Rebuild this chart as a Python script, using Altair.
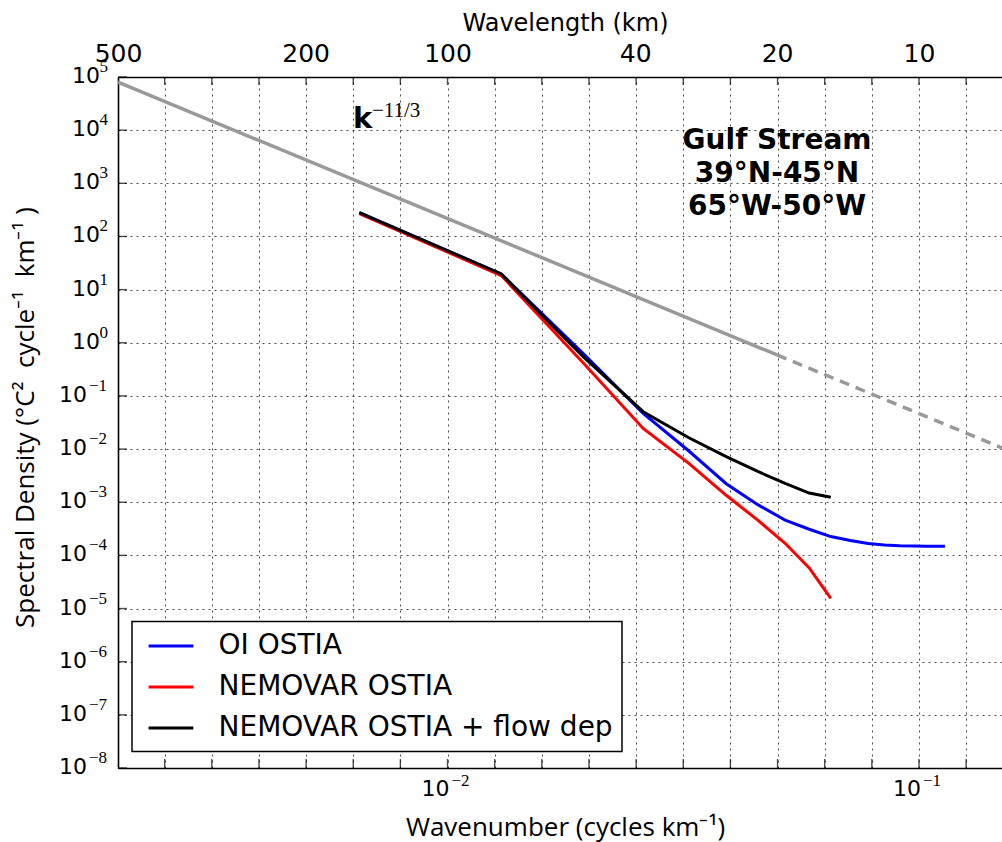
import altair as alt
import pandas as pd

# Plot-area size in pixels
W, H = 884, 691

# Wavenumber samples (cycles/km)
k_main = [0.0065, 0.0130, 0.0195, 0.0260, 0.0325, 0.0390, 0.0455, 0.0520, 0.0585, 0.0650]
k_oi = k_main + [0.0715, 0.0780, 0.0845, 0.0910, 0.0975, 0.1040, 0.1105, 0.1135]

# Spectral density (degC^2 cycle^-1 km^-1)
oi_ostia = [282, 19.7, 0.60, 0.047, 0.0092, 0.00223, 9.0e-4, 4.6e-4, 3.1e-4, 2.26e-4,
            1.9e-4, 1.67e-4, 1.57e-4, 1.52e-4, 1.50e-4, 1.49e-4, 1.48e-4, 1.48e-4]
nemovar_ostia = [270, 18.4, 0.40, 0.0245, 0.0054, 0.00135, 4.6e-4, 1.69e-4, 5.8e-5, 1.56e-5]
nemovar_flow = [282, 19.7, 0.524, 0.0505, 0.0163, 0.0072, 0.0038, 0.00227, 0.00149, 0.00124]

series_names = ["OI OSTIA", "NEMOVAR OSTIA", "NEMOVAR OSTIA + flow dep"]
series_colors = ["#0000ff", "#ff0000", "#000000"]

# k^-11/3 reference slope (solid part, dashed continuation)
ref_k_solid = [0.002, 0.05]
ref_s_solid = [8.0e4, 0.59]
ref_k_dash = [0.05, 0.15]
ref_s_dash = [0.59, 0.0105]

# Axis ticks
x_tick_exp = [-2.6, -2.5, -2.4, -2.3, -2.2, -2.1, -2.0, -1.9, -1.8, -1.7, -1.6,
              -1.5, -1.4, -1.3, -1.2, -1.1, -1.0, -0.9]
x_ticks = [10 ** e for e in x_tick_exp]
top_tick_k = [0.002, 0.005, 0.01, 0.025, 0.05, 0.1]
bottom_label_k = [0.01, 0.1]
bottom_label_exp = ["\u22122", "\u22121"]
y_pos_exp = [5, 4, 3, 2, 1, 0]
y_neg_exp = [-1, -2, -3, -4, -5, -6, -7, -8]
y_ticks = [10.0 ** e for e in y_pos_exp + y_neg_exp]

region_text = "Gulf Stream\n39\u00b0N-45\u00b0N\n65\u00b0W-50\u00b0W"

xscale = alt.Scale(type="log", domain=[0.002, 0.15], nice=False)
yscale = alt.Scale(type="log", domain=[1e-8, 1e5], nice=False)
color_scale = alt.Scale(domain=series_names, range=series_colors)

lines_df = pd.concat([
    pd.DataFrame({"k": k_oi, "s": oi_ostia, "series": series_names[0]}),
    pd.DataFrame({"k": k_main, "s": nemovar_ostia, "series": series_names[1]}),
    pd.DataFrame({"k": k_main, "s": nemovar_flow, "series": series_names[2]}),
], ignore_index=True)

legend = alt.Legend(
    title=None, orient="none", legendX=14, legendY=544.5,
    symbolType="M-1.6,0H1.6", symbolSize=784, symbolStrokeWidth=3,
    labelFont="DejaVu Sans", labelFontSize=28, labelColor="black",
    labelOffset=32, symbolOffset=14.5, labelLimit=0,
    padding=9, rowPadding=11,
    strokeColor="black", fillColor="white", cornerRadius=0,
)

# One shared left axis (horizontal grid + title); every layer with a y field uses it
left_axis = alt.Axis(
    orient="left", values=y_ticks, grid=True, labels=False, ticks=False, tickSize=0,
    domain=True,
    title="Spectral Density (\u00b0C\u00b2\u00a0 cycle\u207b\u00b9\u00a0 km\u207b\u00b9\u00a0)",
    titleFont="Open Sans", titleFontSize=26, titleFontWeight="normal",
    titleX=-93, titleY=340, titleAngle=270, titleAlign="center",
    titleBaseline="middle")


def Y():
    return alt.Y("s:Q", scale=yscale, axis=left_axis, title=left_axis.title)


def X():
    return alt.X("k:Q", scale=xscale, axis=None)


# Bottom axis: vertical grid + inward ticks
xtick_df = pd.DataFrame({"k": x_ticks})
bottom_ticks = alt.Chart(xtick_df).mark_tick(
    color="black", thickness=1.4, size=9, orient="vertical").encode(
    x=alt.X("k:Q", scale=xscale, axis=alt.Axis(
        orient="bottom", values=x_ticks, grid=True, labels=False, ticks=False, tickSize=0,
        domain=True, title="Wavenumber (cycles km\u207b\u00b9)",
        titleFont="Open Sans", titleFontSize=26, titleFontWeight="normal",
        titleX=447, titleY=67, titleAlign="center", titleBaseline="alphabetic")),
    y=alt.value(H - 4.5),
)

# Top axis: wavelength labels + inward ticks
top_ticks = alt.Chart(xtick_df).mark_tick(
    color="black", thickness=1.4, size=8, orient="vertical").encode(
    x=alt.X("k:Q", scale=xscale, axis=alt.Axis(
        orient="top", values=top_tick_k, grid=False, ticks=False, tickSize=0, domain=True,
        labelExpr="'' + round(1 / datum.value)", labelFont="DejaVu Sans", labelFontSize=25,
        labelBaseline="alphabetic", labelPadding=16, labelFlush=False,
        title="Wavelength (km)", titleFont="DejaVu Sans", titleFontSize=24,
        titleFontWeight="normal", titleX=447, titleY=-47, titleAlign="center",
        titleBaseline="alphabetic")),
    y=alt.value(4),
)

# Left axis: inward ticks
ytick_df = pd.DataFrame({"s": y_ticks})
left_ticks = alt.Chart(ytick_df).mark_tick(
    color="black", thickness=1.4, size=9, orient="horizontal").encode(
    y=Y(), x=alt.value(4.5),
)

# Tick labels drawn as base + superscript exponent
xlab_df = pd.DataFrame({"k": bottom_label_k, "exp": bottom_label_exp})
xlab_base = alt.Chart(xlab_df).mark_text(
    text="10", align="right", baseline="alphabetic", dx=2, font="DejaVu Sans", fontSize=22,
    color="black").encode(x=X(), y=alt.value(H + 28))
xlab_exp = alt.Chart(xlab_df).mark_text(
    align="left", baseline="alphabetic", dx=4, font="Liberation Serif", fontSize=17,
    color="black").encode(x=X(), y=alt.value(H + 18), text="exp:N")

ypos_df = pd.DataFrame({"s": [10.0 ** e for e in y_pos_exp], "exp": [str(e) for e in y_pos_exp]})
yneg_df = pd.DataFrame({"s": [10.0 ** e for e in y_neg_exp],
                        "exp": ["\u2212" + str(-e) for e in y_neg_exp]})


def y_labels(df, base_x, exp_x):
    base = alt.Chart(df).mark_text(
        text="10", align="right", baseline="alphabetic", dy=6, font="DejaVu Sans",
        fontSize=22, color="black").encode(y=Y(), x=alt.value(base_x))
    sup = alt.Chart(df).mark_text(
        align="right", baseline="alphabetic", dy=-5, font="Liberation Serif",
        fontSize=17, color="black").encode(y=Y(), x=alt.value(exp_x), text="exp:N")
    return [base, sup]


# Reference slope
ref_solid = alt.Chart(pd.DataFrame({"k": ref_k_solid, "s": ref_s_solid})).mark_line(
    color="#999999", strokeWidth=3.5).encode(x=X(), y=Y())
ref_dash = alt.Chart(pd.DataFrame({"k": ref_k_dash, "s": ref_s_dash})).mark_line(
    color="#999999", strokeWidth=3.5, strokeDash=[10, 7]).encode(x=X(), y=Y())


def series_layer(name):
    return alt.Chart(lines_df).transform_filter(alt.datum.series == name).mark_line(
        strokeWidth=3, clip=True).encode(
        x=X(), y=Y(),
        color=alt.Color("series:N", scale=color_scale, legend=legend),
        order="k:Q",
    )


# Annotations
region = alt.Chart(pd.DataFrame({"k": [0.05], "s": [4.4e3], "t": [region_text]})).mark_text(
    align="center", baseline="alphabetic", font="DejaVu Sans", fontSize=28, fontWeight="bold",
    lineBreak="\n", lineHeight=33, color="black").encode(x=X(), y=Y(), text="t:N")

slope_df = pd.DataFrame({"k": [0.0063], "s": [1.1e4]})
slope_k = alt.Chart(slope_df).mark_text(
    text="k", align="left", baseline="alphabetic", font="DejaVu Sans", fontSize=29,
    fontWeight="bold", color="black").encode(x=X(), y=Y())
slope_exp = alt.Chart(slope_df).mark_text(
    text="\u221211/3", align="left", baseline="alphabetic", dx=19, dy=-11,
    font="Liberation Serif", fontSize=21, color="black").encode(x=X(), y=Y())

layers = [bottom_ticks, top_ticks, left_ticks, ref_solid, ref_dash]
layers += [series_layer(n) for n in series_names]
layers += [xlab_base, xlab_exp]
layers += y_labels(ypos_df, -18, -10)
layers += y_labels(yneg_df, -31, -11)
layers += [region, slope_k, slope_exp]

chart = alt.layer(*layers).resolve_axis(x="independent").resolve_scale(x="shared").properties(
    width=W, height=H,
    autosize=alt.AutoSizeParams(type="none"),
    padding={"left": 118, "top": 77, "right": 0, "bottom": 74},
    background="white",
).configure_view(stroke=None).configure_axis(
    domainColor="black", domainWidth=1.6,
    gridColor="black", gridDash=[2, 4], gridWidth=1, gridOpacity=0.7,
    labelColor="black", titleColor="black",
).configure_legend(strokeWidth=1.5)

chart.save("out.html", embed_options={"renderer": "svg", "actions": False})
